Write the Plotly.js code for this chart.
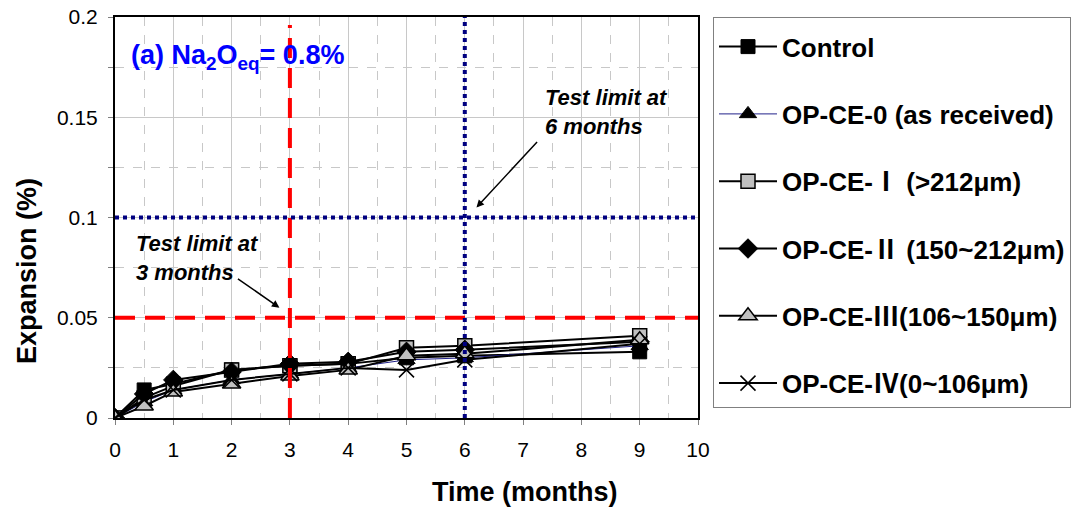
<!DOCTYPE html>
<html>
<head>
<meta charset="utf-8">
<script src="https://cdn.plot.ly/plotly-3.0.1.min.js"></script>
<style>html,body{margin:0;padding:0;background:#fff;}#chart{width:1084px;height:514px;}</style>
</head>
<body>
<div id="chart"></div>
<script>
const months = [0, 0.5, 1, 2, 3, 4, 5, 6, 9];
const R = (s) => '<span style="font-family:\'Noto Sans CJK JP\'">' + s + '</span>';
const seriesNames = ["Control", "OP-CE-0 (as received)", "OP-CE-" + R("Ⅰ") + " (>212μm)", "OP-CE-" + R("Ⅱ") + " (150~212μm)", "OP-CE-" + R("Ⅲ") + "(106~150μm)", "OP-CE-" + R("Ⅳ") + "(0~106μm)"];
const control = [0, 0.014, 0.017, 0.024, 0.026, 0.027, 0.030, 0.031, 0.033];
const opce0   = [0, 0.008, 0.014, 0.019, 0.022, 0.025, 0.029, 0.030, 0.036];
const opce1   = [0, 0.010, 0.016, 0.024, 0.026, 0.027, 0.035, 0.036, 0.041];
const opce2   = [0, 0.012, 0.019, 0.023, 0.027, 0.028, 0.033, 0.034, 0.038];
const opce3   = [0, 0.006, 0.013, 0.017, 0.021, 0.024, 0.031, 0.032, 0.039];
const opce4   = [0, 0.009, 0.014, 0.019, 0.022, 0.025, 0.024, 0.029, 0.037];
const xTicks = [0,1,2,3,4,5,6,7,8,9,10];
const yTicks = [0, 0.05, 0.1, 0.15, 0.2];
const yTickText = ["0", "0.05", "0.1", "0.15", "0.2"];

const values = [control, opce0, opce1, opce2, opce3, opce4];
const styles = [
  {line:{color:'#000', width:2}, marker:{symbol:'square', size:14, color:'#000', line:{color:'#000', width:1}}},
  {line:{color:'#22228a', width:1}, marker:{symbol:'triangle-up', size:15, color:'#000', line:{color:'#000', width:1}}},
  {line:{color:'#000', width:2}, marker:{symbol:'square', size:14, color:'#c0c0c0', line:{color:'#000', width:1.5}}},
  {line:{color:'#000', width:2}, marker:{symbol:'diamond', size:15, color:'#000', line:{color:'#000', width:1}}},
  {line:{color:'#000', width:2}, marker:{symbol:'triangle-up', size:16, color:'#c0c0c0', line:{color:'#000', width:1.5}}},
  {line:{color:'#000', width:2}, marker:{symbol:'x-thin-open', size:15, color:'#000', line:{color:'#000', width:1.5}}}
];

const traces = values.map((v, i) => ({
  x: months, y: v, type: 'scatter', mode: 'lines+markers',
  name: seriesNames[i], legendgroup: 'g' + i,
  line: styles[i].line, marker: styles[i].marker
}));

const F = 'Arial, "Liberation Sans", sans-serif';
const L = 115, RR = 698, T = 17, B = 418;
const W = RR - L, H = B - T;

const layout = {
  width: 1084, height: 514,
  margin: {l: L, r: 1084 - RR, t: T, b: 514 - B},
  paper_bgcolor: '#fff', plot_bgcolor: '#fff',
  font: {family: F, color: '#000', size: 21},
  showlegend: true,
  legend: {
    x: (713 - L) / W, xanchor: 'left', y: 1, yanchor: 'top',
    bordercolor: '#808080', borderwidth: 1, bgcolor: '#fff',
    font: {family: F, size: 26, color: '#000', weight: 'bold'},
    title: {text: ' ', font: {size: 4}},
    traceorder: 'grouped', tracegroupgap: 30.5, itemwidth: 58
  },
  xaxis: {
    range: [0, 10], tickvals: xTicks, ticktext: xTicks.map(String),
    showgrid: true, gridcolor: '#c8c8c8', gridwidth: 1,
    minor: {dtick: 0.5, showgrid: true, gridcolor: '#c8c8c8', griddash: 'dash', gridwidth: 1},
    ticks: 'outside', ticklen: 5, tickcolor: '#808080', ticklabelstandoff: 7,
    showline: true, linecolor: '#000', linewidth: 2, mirror: true,
    zeroline: false, tickfont: {size: 21, family: F}
  },
  yaxis: {
    range: [0, 0.2], tickvals: yTicks, ticktext: yTickText,
    showgrid: true, gridcolor: '#c8c8c8', gridwidth: 1,
    minor: {dtick: 0.025, showgrid: true, gridcolor: '#c8c8c8', griddash: 'dash', gridwidth: 1, ticks: 'outside', ticklen: 5, tickcolor: '#808080'},
    ticks: 'outside', ticklen: 5, tickcolor: '#808080', ticklabelstandoff: 6,
    showline: true, linecolor: '#000', linewidth: 2, mirror: true,
    zeroline: false, tickfont: {size: 21, family: F}
  },
  shapes: [
    {type: 'line', xref: 'x', yref: 'y', x0: 0, x1: 10, y0: 0.05, y1: 0.05, line: {color: '#ff0000', width: 4, dash: '20px,10px'}, layer: 'above'},
    {type: 'line', xref: 'x', yref: 'y', x0: 3, x1: 3, y0: 0, y1: 0.196, line: {color: '#ff0000', width: 4, dash: '20px,10px'}, layer: 'above'},
    {type: 'line', xref: 'x', yref: 'y', x0: 0, x1: 10, y0: 0.1, y1: 0.1, line: {color: '#000080', width: 4, dash: '4px,4px'}, layer: 'above'},
    {type: 'line', xref: 'x', yref: 'y', x0: 6, x1: 6, y0: 0, y1: 0.2, line: {color: '#000080', width: 4, dash: '4px,4px'}, layer: 'above'}
  ],
  annotations: [
    {xref: 'x', yref: 'y', x: 0.24, y: 0.18, xanchor: 'left', yanchor: 'middle', showarrow: false,
     text: '<b>(a) Na<sub>2</sub>O<sub>eq</sub>= 0.8%</b>', font: {family: F, size: 27, color: '#0000ff'}},
    {xref: 'x', yref: 'y', x: 7.34, y: 0.1526, xanchor: 'left', yanchor: 'middle', showarrow: false, align: 'left',
     text: '<b><i>Test limit at<br>6 months</i></b>', font: {family: F, size: 22, color: '#000'}},
    {xref: 'x', yref: 'y', x: 0.33, y: 0.0798, xanchor: 'left', yanchor: 'middle', showarrow: false, align: 'left',
     text: '<b><i>Test limit at<br>3 months</i></b>', font: {family: F, size: 22, color: '#000'}},
    {xref: 'x', yref: 'y', x: 6.2, y: 0.105, text: '', showarrow: true, arrowhead: 2, arrowsize: 1, arrowwidth: 1.5, arrowcolor: '#000', ax: 62, ay: -67, standoff: 0},
    {xref: 'x', yref: 'y', x: 2.82, y: 0.055, text: '', showarrow: true, arrowhead: 2, arrowsize: 1, arrowwidth: 1.5, arrowcolor: '#000', ax: -43, ay: -30, standoff: 0},
    {xref: 'paper', yref: 'paper', x: (525 - L) / W, y: -(492 - B) / H, xanchor: 'center', yanchor: 'middle', showarrow: false,
     text: '<b>Time (months)</b>', font: {family: F, size: 27}},
    {xref: 'paper', yref: 'paper', x: -(L - 27) / W, y: (B - 271) / H, xanchor: 'center', yanchor: 'middle', showarrow: false, textangle: -90,
     text: '<b>Expansion (%)</b>', font: {family: F, size: 27}}
  ]
};

Plotly.newPlot('chart', traces, layout, {displayModeBar: false, staticPlot: true});
</script>
</body>
</html>
